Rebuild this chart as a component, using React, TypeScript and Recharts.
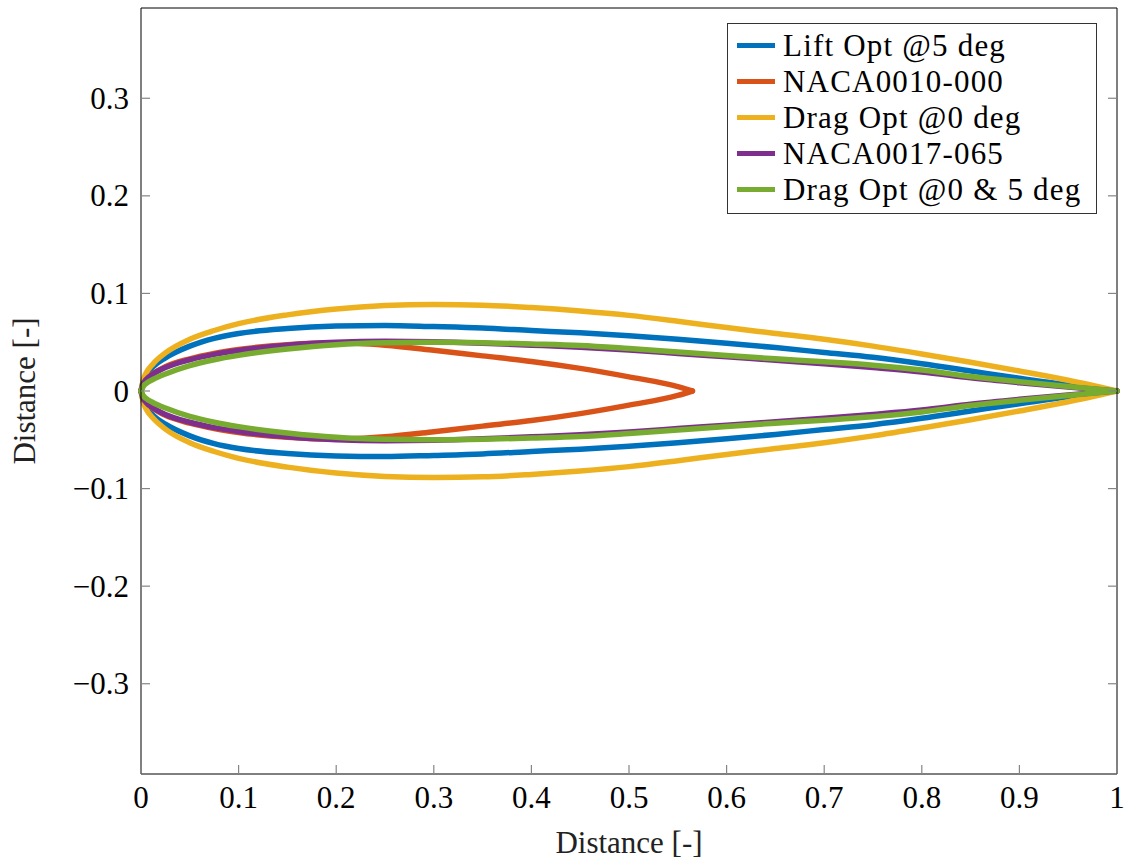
import React from "react";
import { Legend, Line, LineChart, XAxis, YAxis } from "recharts";

// chord stations (x / c) used for the read-off profiles
const stations = [
  0, 0.0025, 0.005, 0.0125, 0.025, 0.05, 0.075, 0.1, 0.15, 0.2, 0.25, 0.3, 0.35,
  0.4, 0.45, 0.5, 0.55, 0.6, 0.65, 0.7, 0.75, 0.8, 0.85, 0.9, 0.95, 1,
];
// NACA0010-000 ends early (closed at ~0.565)
const naca10Stations = [
  0, 0.0025, 0.005, 0.0125, 0.025, 0.05, 0.075, 0.1, 0.15, 0.2, 0.25, 0.3, 0.35,
  0.4, 0.45, 0.5, 0.55, 0.565,
];

const liftOptUpper = [
  0, 0.011, 0.016, 0.025, 0.034, 0.046, 0.054, 0.059, 0.064, 0.0665, 0.0672,
  0.066, 0.0645, 0.062, 0.0596, 0.0565, 0.053, 0.049, 0.0445, 0.0395, 0.0345,
  0.028, 0.0205, 0.013, 0.006, 0,
];
const liftOptLower = [
  0, -0.011, -0.016, -0.025, -0.034, -0.046, -0.054, -0.059, -0.064, -0.0665,
  -0.0672, -0.066, -0.0645, -0.062, -0.0596, -0.0565, -0.053, -0.049, -0.0445,
  -0.0395, -0.0345, -0.028, -0.0205, -0.013, -0.006, 0,
];

const naca10Upper = [
  0, 0.0085, 0.012, 0.018, 0.025, 0.033, 0.0385, 0.0425, 0.0475, 0.0495, 0.047,
  0.0418, 0.036, 0.0303, 0.0232, 0.0145, 0.0045, 0,
];
const naca10Lower = [
  0, -0.0085, -0.012, -0.018, -0.025, -0.033, -0.0385, -0.0425, -0.0475,
  -0.0495, -0.047, -0.0418, -0.036, -0.0303, -0.0232, -0.0145, -0.0045, 0,
];

const dragOpt0Upper = [
  0, 0.012, 0.018, 0.028, 0.039, 0.053, 0.062, 0.069, 0.078, 0.084, 0.0875,
  0.0886, 0.088, 0.0855, 0.082, 0.0775, 0.0715, 0.065, 0.059, 0.053, 0.046,
  0.038, 0.0295, 0.0205, 0.011, 0,
];
const dragOpt0Lower = [
  0, -0.012, -0.018, -0.028, -0.039, -0.053, -0.062, -0.069, -0.078, -0.084,
  -0.0875, -0.0886, -0.088, -0.0855, -0.082, -0.0775, -0.0715, -0.065, -0.059,
  -0.053, -0.046, -0.038, -0.0295, -0.0205, -0.011, 0,
];

const naca17Upper = [
  0, 0.008, 0.0115, 0.0175, 0.024, 0.032, 0.0375, 0.0415, 0.047, 0.05, 0.051,
  0.0505, 0.049, 0.047, 0.0448, 0.042, 0.0385, 0.035, 0.0315, 0.028, 0.024,
  0.0195, 0.0135, 0.0085, 0.004, 0,
];
const naca17Lower = [
  0, -0.008, -0.0115, -0.0175, -0.024, -0.032, -0.0375, -0.0415, -0.047, -0.05,
  -0.051, -0.0505, -0.049, -0.047, -0.0448, -0.042, -0.0385, -0.035, -0.0315,
  -0.028, -0.024, -0.0195, -0.0135, -0.0085, -0.004, 0,
];

const dragOpt05Upper = [
  0, 0.005, 0.0075, 0.012, 0.0175, 0.026, 0.032, 0.0365, 0.043, 0.0475, 0.0495,
  0.05, 0.0495, 0.0482, 0.0466, 0.0435, 0.04, 0.0363, 0.033, 0.03, 0.0265,
  0.0215, 0.0148, 0.0095, 0.0045, 0,
];
const dragOpt05Lower = [
  0, -0.005, -0.0075, -0.012, -0.0175, -0.026, -0.032, -0.0365, -0.043,
  -0.0475, -0.0495, -0.05, -0.0495, -0.0482, -0.0466, -0.0435, -0.04, -0.0363,
  -0.033, -0.03, -0.0265, -0.0215, -0.0148, -0.0095, -0.0045, 0,
];

const xTicks = [0, 0.1, 0.2, 0.3, 0.4, 0.5, 0.6, 0.7, 0.8, 0.9, 1];
const yTicks = [-0.3, -0.2, -0.1, 0, 0.1, 0.2, 0.3];

const side = (xs: number[], ys: number[]) => xs.map((x, i) => ({ x, y: ys[i] }));

const series = [
  { name: "Lift Opt @5 deg", color: "#0072BD", upper: side(stations, liftOptUpper), lower: side(stations, liftOptLower) },
  { name: "NACA0010-000", color: "#D95319", upper: side(naca10Stations, naca10Upper), lower: side(naca10Stations, naca10Lower) },
  { name: "Drag Opt @0 deg", color: "#EDB120", upper: side(stations, dragOpt0Upper), lower: side(stations, dragOpt0Lower) },
  { name: "NACA0017-065", color: "#7E2F8E", upper: side(stations, naca17Upper), lower: side(stations, naca17Lower) },
  { name: "Drag Opt @0 & 5 deg", color: "#77AC30", upper: side(stations, dragOpt05Upper), lower: side(stations, dragOpt05Lower) },
];

const FONT = '"Liberation Serif", "DejaVu Serif", "Times New Roman", Times, serif';
const TICK_GRAY = "#858585";
const tickText = { fontFamily: FONT, fontSize: 31, fill: "#000" };

const fmt = (v: number) => String(v).replace("-", "\u2212");

function BottomTick({ x, y, payload }: any) {
  return (
    <g>
      <line x1={x} y1={y} x2={x} y2={y - 9} stroke={TICK_GRAY} strokeWidth={1.2} />
      <text x={x} y={y + 34} textAnchor="middle" style={tickText}>
        {fmt(payload.value)}
      </text>
    </g>
  );
}

function LeftTick({ x, y, payload }: any) {
  return (
    <g>
      <line x1={x} y1={y} x2={x + 9} y2={y} stroke={TICK_GRAY} strokeWidth={1.2} />
      <text x={x - 12} y={y + 10.5} textAnchor="end" style={tickText}>
        {fmt(payload.value)}
      </text>
    </g>
  );
}

const TopTick = ({ x, y }: any) => <line x1={x} y1={y} x2={x} y2={y + 9} stroke={TICK_GRAY} strokeWidth={1.2} />;
const RightTick = ({ x, y }: any) => <line x1={x} y1={y} x2={x - 9} y2={y} stroke={TICK_GRAY} strokeWidth={1.2} />;

function XTitle(props: any) {
  const vb = props.viewBox || { x: 141, width: 976 };
  return (
    <text x={vb.x + vb.width / 2} y={853} textAnchor="middle"
      style={{ fontFamily: FONT, fontSize: 31, fill: "#222" }}>
      Distance [-]
    </text>
  );
}

function YTitle(props: any) {
  const vb = props.viewBox || { y: 8, height: 766 };
  const cy = vb.y + vb.height / 2;
  return (
    <text transform={`translate(35, ${cy}) rotate(-90)`} textAnchor="middle"
      style={{ fontFamily: FONT, fontSize: 31, fill: "#222" }}>
      Distance [-]
    </text>
  );
}

function LegendBox() {
  return (
    <div style={{
      border: "1px solid #333", background: "#fff", width: 368, padding: "4px 0 6px 0",
      fontFamily: FONT, fontSize: 31, color: "#000", letterSpacing: 1.2,
    }}>
      {series.map((s) => (
        <div key={s.name} style={{ display: "flex", alignItems: "center", height: 35.8 }}>
          <span style={{ display: "inline-block", width: 38, height: 5, background: s.color, marginLeft: 9, marginRight: 8 }} />
          <span style={{ lineHeight: "35px", whiteSpace: "nowrap" }}>{s.name}</span>
        </div>
      ))}
    </div>
  );
}

export default function App() {
  return (
    <div style={{ position: "absolute", left: 0, top: 0, width: 1129, height: 863, background: "#fff" }}>
      <LineChart width={1129} height={863} margin={{ top: 7, right: 11, bottom: 0, left: 0 }}>
        <XAxis
          dataKey="x" type="number" domain={[0, 1]} ticks={xTicks} interval={0}
          height={89} tickSize={0} tickMargin={0} tickLine={false}
          axisLine={{ stroke: "#000" }} tick={<BottomTick />} label={<XTitle />}
        />
        <XAxis
          xAxisId="top" orientation="top" dataKey="x" type="number" domain={[0, 1]}
          ticks={xTicks} interval={0} height={1} tickSize={0} tickMargin={0}
          tickLine={false} axisLine={{ stroke: "#000" }} tick={<TopTick />}
        />
        <YAxis
          type="number" domain={[-0.3925, 0.3925]} allowDataOverflow ticks={yTicks}
          interval={0} width={141} tickSize={0} tickMargin={0} tickLine={false}
          axisLine={{ stroke: "#000" }} tick={<LeftTick />} label={<YTitle />}
        />
        <YAxis
          yAxisId="right" orientation="right" type="number" domain={[-0.3925, 0.3925]}
          allowDataOverflow ticks={yTicks} interval={0} width={1} tickSize={0}
          tickMargin={0} tickLine={false} axisLine={{ stroke: "#000" }} tick={<RightTick />}
        />
        {series.flatMap((s) =>
          [s.upper, s.lower].map((d, k) => (
            <Line
              key={`${s.name}-${k}`} data={d} dataKey="y" name={s.name} type="monotoneX"
              stroke={s.color} strokeWidth={5.5} strokeLinecap="round" dot={false}
              activeDot={false} isAnimationActive={false}
            />
          ))
        )}
        <Legend
          layout="vertical" align="center" verticalAlign="middle"
          wrapperStyle={{ left: 727, top: 23, width: 370 }}
          content={() => <LegendBox />}
        />
      </LineChart>
    </div>
  );
}
